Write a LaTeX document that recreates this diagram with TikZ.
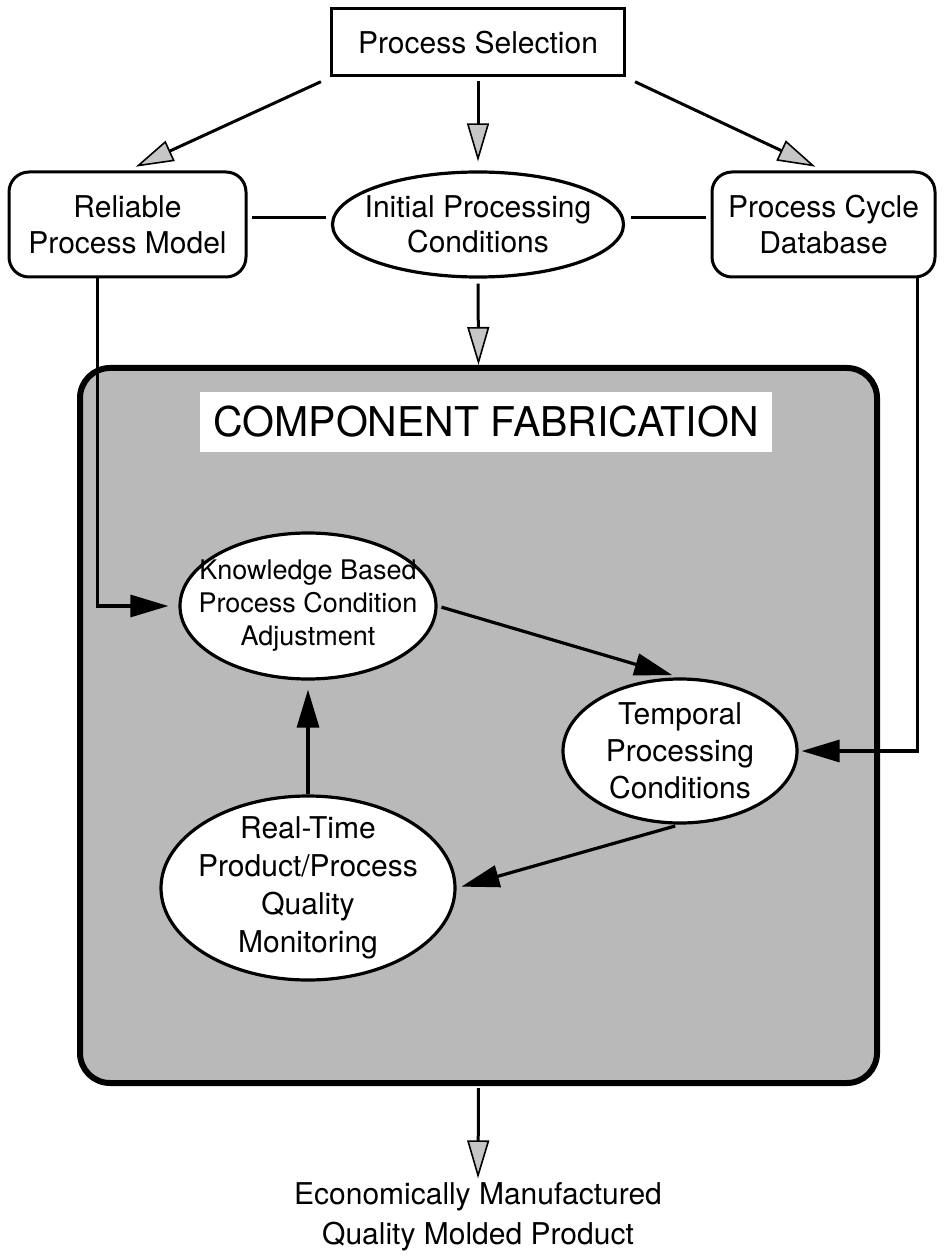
\documentclass[tikz,border=0pt]{standalone}
\usepackage{fontspec}
\setmainfont{TeX Gyre Heros}
\usetikzlibrary{arrows.meta,shapes.geometric}

\begin{document}
\begin{tikzpicture}[x=0.5pt, y=-0.5pt,
		every node/.style={align=center, inner sep=0pt, font=\fontsize{15}{18.5}\selectfont},
		plainbox/.style={draw, line width=1.5pt, fill=white, minimum height=52.5pt},
		roundbox/.style={plainbox, rounded corners=10pt},
		oval/.style={draw, ellipse, line width=1.6pt, fill=white, inner sep=-25pt},
		flow/.style={line width=1.5pt, -{Triangle[length=19pt, width=11pt, fill=gray!45, line width=0.8pt]}},
		flowin/.style={line width=1.6pt, -{Triangle[length=19pt, width=11pt, fill=black]}}]
				
				\useasboundingbox (0,0) rectangle (943,1256);
				
				% Draw the top row.
				\node[plainbox, minimum width=146.5pt, minimum height=33.5pt] (sel) at (478,42.5) {Process Selection};
				\node[roundbox, minimum width=118.5pt, font=\fontsize{15}{18}\selectfont] (model) at (127.5,224.5) {Reliable\\Process Model};
				\node[oval, minimum width=145.5pt, minimum height=52.5pt, font=\fontsize{15}{17.5}\selectfont] (init) at (478,224.5) {Initial Processing\\Conditions};
				\node[roundbox, minimum width=111.5pt, font=\fontsize{15}{18}\selectfont] (cycle) at (823.5,224.5) {Process Cycle\\Database};
				
				% Draw the fabrication frame and its title.
				\node[draw, line width=3pt, fill=gray!55, rounded corners=15pt, minimum width=398.5pt, minimum height=357.5pt] (fab) at (478.5,725.5) {};
				\node[fill=white, minimum width=286pt, minimum height=30pt, font=\fontsize{20.5}{24}\selectfont] (title) at (486,422) {COMPONENT FABRICATION};
				
				% Draw the loop inside the frame.
				\node[oval, minimum width=128pt, minimum height=73pt, font=\fontsize{13.5}{16.5}\selectfont] (know) at (308,606) {Knowledge Based\\Process Condition\\Adjustment};
				\node[oval, minimum width=117pt, minimum height=72pt] (temp) at (680,751) {Temporal\\Processing\\Conditions};
				\node[oval, minimum width=147pt, minimum height=92pt, font=\fontsize{15}{19}\selectfont] (real) at (308,888) {Real-Time\\Product/Process\\Quality\\Monitoring};
				
				% Draw the result.
				\node[font=\fontsize{15}{20}\selectfont] (out) at (478,1217) {Economically Manufactured\\Quality Molded Product};
				
				% Draw the arrows from the process selection.
				\draw[flow, shorten <=5pt, shorten >=4.5pt] (sel.south west) -- (model.north);
				\draw[flow, shorten <=2pt, shorten >=4.5pt] (sel.south) -- (init.north);
				\draw[flow, shorten <=5pt, shorten >=4.5pt] (sel.south east) -- (cycle.north);
				
				% Draw the links of the top row.
				\draw[line width=1.5pt, shorten <=2pt, shorten >=2.5pt] ([yshift=3.5pt]model.east) -- ([yshift=3.5pt]init.west);
				\draw[line width=1.5pt, shorten <=3pt, shorten >=2.5pt] ([yshift=3.5pt]init.east) -- ([yshift=3.5pt]cycle.west);
				\draw[flow, shorten <=2.5pt] (init.south) -- (fab.north);
				
				% Draw the side feeds into the frame.
				\draw[flowin, shorten >=5pt] ([xshift=-15pt]model.south) |- (know.west);
				\draw[flowin, shorten >=1.5pt] ([xshift=47pt]cycle.south) |- (temp.east);
				
				% Draw the adjustment loop.
				\draw[flowin, shorten <=2pt, shorten >=4pt] (know.east) -- (temp.north);
				\draw[flowin, shorten <=2.5pt, shorten >=2.5pt] (temp.south) -- (real.east);
				\draw[flowin, shorten >=4.5pt] (real.north) -- (know.south);
				
				% Draw the output arrow.
				\draw[flow, shorten <=1pt, shorten >=2pt] (fab.south) -- (out.north);
				
			\end{tikzpicture}
\end{document}
